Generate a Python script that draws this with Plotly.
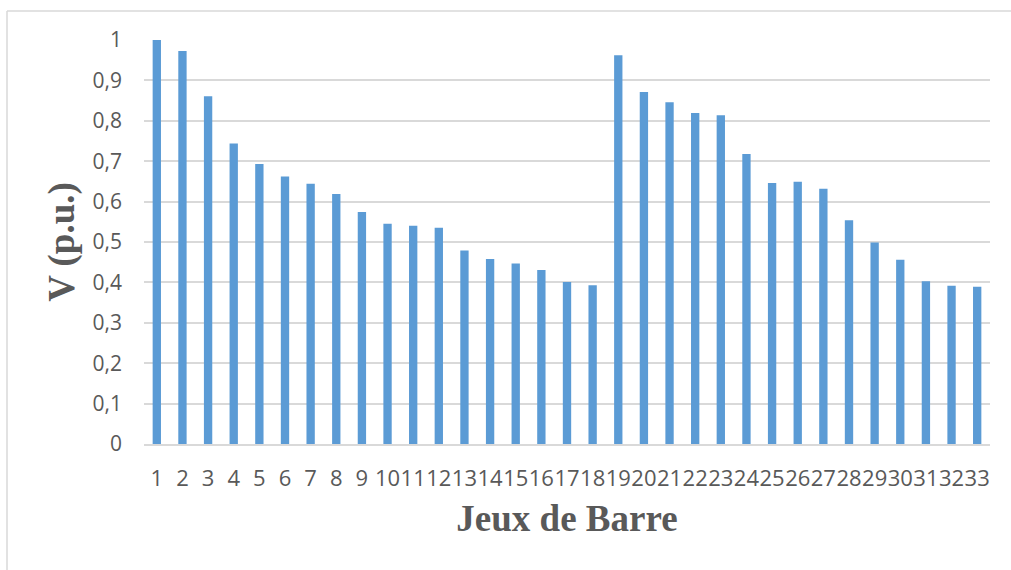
import plotly.graph_objects as go

# Bus voltages (p.u.) for each of the 33 buses
buses = list(range(1, 34))
bus_labels = [str(b) for b in buses]
voltages = [
    1.000, 0.973, 0.861, 0.744, 0.693, 0.662, 0.644, 0.619, 0.574, 0.545,
    0.540, 0.535, 0.479, 0.458, 0.447, 0.431, 0.401, 0.393, 0.962, 0.871,
    0.846, 0.819, 0.814, 0.718, 0.646, 0.649, 0.632, 0.554, 0.499, 0.456,
    0.403, 0.392, 0.389,
]
y_ticks = [0.0, 0.1, 0.2, 0.3, 0.4, 0.5, 0.6, 0.7, 0.8, 0.9, 1.0]
y_tick_text = ["0", "0,1", "0,2", "0,3", "0,4", "0,5", "0,6", "0,7", "0,8", "0,9", "1"]

GRID = "#d9d9d9"
TEXT = "#595959"

# plot area in pixels: 846 wide, 404 tall
PW, PH = 846, 404
border_x = -137 / PW
border_top = (570 - 126 - 11) / PH

fig = go.Figure(
    go.Bar(
        x=buses,
        y=voltages,
        marker=dict(color="#5b9bd5", line=dict(width=0)),
        hoverinfo="x+y",
    )
)

fig.update_layout(
    width=1011,
    height=570,
    margin=dict(l=144, r=21, t=40, b=126),
    paper_bgcolor="white",
    plot_bgcolor="white",
    bargap=0.675,
    showlegend=False,
    font=dict(family="Open Sans", color=TEXT),
    shapes=[
        dict(type="line", xref="paper", yref="paper",
             x0=border_x, x1=(PW + 30) / PW, y0=border_top, y1=border_top,
             line=dict(color=GRID, width=1.5)),
        dict(type="line", xref="paper", yref="paper",
             x0=border_x, x1=border_x, y0=-140 / PH, y1=border_top,
             line=dict(color=GRID, width=1.5)),
    ],
)

fig.update_xaxes(
    range=[0.5, 33.5],
    tickmode="array",
    tickvals=buses,
    ticktext=bus_labels,
    tickangle=0,
    tickfont=dict(size=22, color=TEXT),
    ticklabelstandoff=14,
    showgrid=False,
    showline=True,
    linecolor=GRID,
    linewidth=1.5,
    zeroline=False,
    title=dict(
        text="Jeux de Barre",
        font=dict(family="Liberation Serif", size=37, color=TEXT, weight="bold"),
        standoff=14,
    ),
)

fig.update_yaxes(
    range=[0, 1],
    tickmode="array",
    tickvals=y_ticks,
    ticktext=y_tick_text,
    tickfont=dict(size=21, color=TEXT),
    ticklabelstandoff=21,
    showgrid=True,
    gridcolor=GRID,
    gridwidth=1.5,
    zeroline=False,
    showline=False,
    title=dict(
        text="V (p.u.)",
        font=dict(family="Liberation Serif", size=37, color=TEXT, weight="bold"),
        standoff=6,
    ),
)

fig.write_html("out.html")
